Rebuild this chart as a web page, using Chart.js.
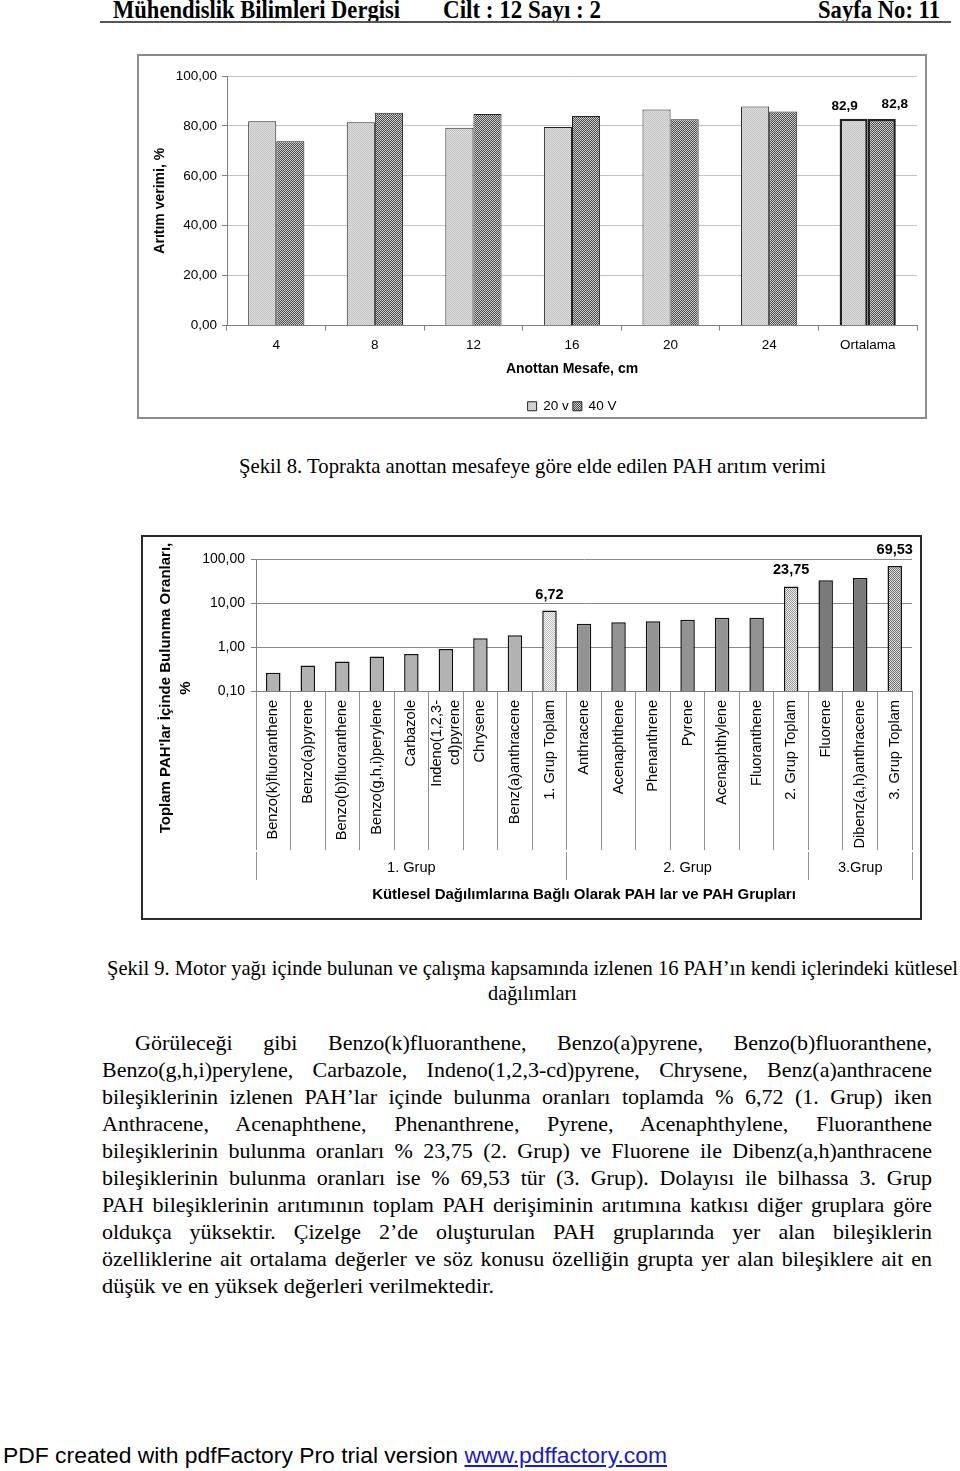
<!DOCTYPE html>
<html>
<head>
<meta charset="utf-8">
<script src="https://cdn.jsdelivr.net/npm/chart.js@4.4.0/dist/chart.umd.min.js"></script>
<style>
    body { margin: 0; background: #fff; }
    #page { position: relative; width: 960px; height: 1471px; overflow: hidden; font-family: "Liberation Serif", "Times New Roman", serif; color: #000; }
    .t { position: absolute; white-space: nowrap; font-size: 22px; line-height: 26px; transform-origin: 0 50%; }
    .hdr { font-weight: bold; font-size: 25px; line-height: 30px; }
    #rule { position: absolute; left: 100px; top: 21px; width: 851px; height: 2px; background: #555; }
    .box { position: absolute; background: #fff; }
    .box canvas { display: block; }
    #box1 { left: 137px; top: 54px; border: 2px solid #8a8a8a; }
    #box2 { left: 141px; top: 535px; border: 2px solid #2a2a2a; }
    #footer { font-family: "Liberation Sans", Arial, sans-serif; font-size: 22px; }
    #footer a { color: #1a1acc; text-decoration: underline; }
</style>
</head>
<body>
<div id="page">
    <div class="t hdr" data-w="287" style="left:113px;top:-5px">Mühendislik Bilimleri Dergisi</div>
    <div class="t hdr" data-w="158" style="left:443px;top:-5px">Cilt : 12 Sayı : 2</div>
    <div class="t hdr" data-w="122" style="left:818px;top:-5px">Sayfa No: 11</div>
    <div id="rule"></div>

    <div class="box" id="box1"><canvas id="chart1" width="786" height="361"></canvas></div>
    <div class="t" data-w="587" style="left:239px;top:453px">Şekil 8. Toprakta anottan mesafeye göre elde edilen PAH arıtım verimi</div>

    <div class="box" id="box2"><canvas id="chart2" width="777" height="381"></canvas></div>
    <div class="t" data-w="851" style="left:107px;top:955px">Şekil 9. Motor yağı içinde bulunan ve çalışma kapsamında izlenen 16 PAH’ın kendi içlerindeki kütlesel</div>
    <div class="t" data-w="89" style="left:488px;top:980px">dağılımları</div>

    <div class="t" data-w="797" data-mode="justify" style="left:135px;top:1030px">Görüleceği gibi Benzo(k)fluoranthene, Benzo(a)pyrene, Benzo(b)fluoranthene,</div>
    <div class="t" data-w="830" data-mode="justify" style="left:102px;top:1057px">Benzo(g,h,i)perylene, Carbazole, Indeno(1,2,3-cd)pyrene, Chrysene, Benz(a)anthracene</div>
    <div class="t" data-w="830" data-mode="justify" style="left:102px;top:1084px">bileşiklerinin izlenen PAH’lar içinde bulunma oranları toplamda % 6,72 (1. Grup) iken</div>
    <div class="t" data-w="830" data-mode="justify" style="left:102px;top:1111px">Anthracene, Acenaphthene, Phenanthrene, Pyrene, Acenaphthylene, Fluoranthene</div>
    <div class="t" data-w="830" data-mode="justify" style="left:102px;top:1138px">bileşiklerinin bulunma oranları % 23,75 (2. Grup) ve Fluorene ile Dibenz(a,h)anthracene</div>
    <div class="t" data-w="830" data-mode="justify" style="left:102px;top:1165px">bileşiklerinin bulunma oranları ise % 69,53 tür (3. Grup). Dolayısı ile bilhassa 3. Grup</div>
    <div class="t" data-w="830" data-mode="justify" style="left:102px;top:1192px">PAH bileşiklerinin arıtımının toplam PAH derişiminin arıtımına katkısı diğer gruplara göre</div>
    <div class="t" data-w="830" data-mode="justify" style="left:102px;top:1219px">oldukça yüksektir. Çizelge 2’de oluşturulan PAH gruplarında yer alan bileşiklerin</div>
    <div class="t" data-w="830" data-mode="justify" style="left:102px;top:1246px">özelliklerine ait ortalama değerler ve söz konusu özelliğin grupta yer alan bileşiklere ait en</div>
    <div class="t" data-w="392" style="left:102px;top:1273px">düşük ve en yüksek değerleri verilmektedir.</div>

    <div class="t" id="footer" data-w="664" style="left:3px;top:1443px">PDF created with pdfFactory Pro trial version <a>www.pdffactory.com</a></div>
</div>

<script>
// Şekil 8 - arıtım verimi
const mesafeLabels = ["4", "8", "12", "16", "20", "24", "Ortalama"];
const verim20v = [81.9, 81.5, 79.3, 79.6, 86.6, 87.8, 82.9];
const verim40v = [73.8, 85.3, 84.8, 84.0, 82.7, 85.8, 82.8];
const verimTicks = [0, 20, 40, 60, 80, 100];

// Şekil 9 - PAH dağılımı
const pahLabels = [
    "Benzo(k)fluoranthene", "Benzo(a)pyrene", "Benzo(b)fluoranthene", "Benzo(g,h,i)perylene",
    "Carbazole", ["Indeno(1,2,3-", "cd)pyrene"], "Chrysene", "Benz(a)anthracene", "1. Grup Toplam",
    "Anthracene", "Acenaphthene", "Phenanthrene", "Pyrene", "Acenaphthylene", "Fluoranthene",
    "2. Grup Toplam", "Fluorene", "Dibenz(a,h)anthracene", "3. Grup Toplam"
];
const pahValues = [0.26, 0.38, 0.47, 0.61, 0.69, 0.90, 1.58, 1.86, 6.72, 3.36, 3.67, 3.87, 4.14, 4.60, 4.62, 23.75, 32.7, 36.9, 69.53];
const pahGroup = [1, 1, 1, 1, 1, 1, 1, 1, 1, 2, 2, 2, 2, 2, 2, 2, 3, 3, 3];
const groupNames = ["1. Grup", "2. Grup", "3.Grup"];
const toplamIdx = [8, 15, 18];
const pahTicks = [0.1, 1, 10, 100];

function virgul(v, d) {
    return v.toFixed(d).replace(".", ",");
}

// small checker pattern, like the excel fills
function pattern(a, b) {
    const c = document.createElement("canvas");
    c.width = 2;
    c.height = 2;
    const g = c.getContext("2d");
    g.fillStyle = a;
    g.fillRect(0, 0, 2, 2);
    g.fillStyle = b;
    g.fillRect(0, 0, 1, 1);
    g.fillRect(1, 1, 1, 1);
    return g.createPattern(c, "repeat");
}

document.addEventListener("DOMContentLoaded", function () {
    // stretch text lines to the widths of the scanned page
    document.querySelectorAll("[data-w]").forEach(function (el) {
        const target = +el.dataset.w;
        const natural = el.getBoundingClientRect().width;
        if (el.dataset.mode === "justify") {
            const gaps = el.textContent.trim().split(/\s+/).length - 1;
            const ws = (target - natural) / gaps;
            if (ws > -1.5) {
                el.style.wordSpacing = ws + "px";
                return;
            }
        }
        el.style.transform = "scaleX(" + (target / natural) + ")";
    });

    Chart.defaults.font.family = "'Liberation Sans', Arial, sans-serif";
    Chart.defaults.color = "#000";

    // Şekil 8
    const last = mesafeLabels.length - 1;
    const ortalamaLabels = {
        id: "ortalamaLabels",
        afterDatasetsDraw(chart) {
            const ctx = chart.ctx;
            ctx.save();
            ctx.font = "bold 13.5px 'Liberation Sans', Arial";
            ctx.textAlign = "center";
            ctx.textBaseline = "middle";
            chart.data.datasets.forEach(function (ds, i) {
                const bar = chart.getDatasetMeta(i).data[last];
                ctx.fillText(virgul(ds.data[last], 1), bar.x + (i ? 13 : -9), bar.y - (i ? 15 : 12));
            });
            ctx.restore();
        },
    };
    // legend sits under the plot centre, a little lower than chart.js puts it
    const legendPlace = {
        id: "legendPlace",
        afterLayout(chart) {
            const l = chart.legend;
            const d = (chart.chartArea.left + chart.chartArea.right) / 2 - (l.left + l.right) / 2;
            l.left += d;
            l.right += d;
            l.top += 6;
            l.bottom += 6;
        },
    };

    new Chart(document.getElementById("chart1"), {
        type: "bar",
        data: {
            labels: mesafeLabels,
            datasets: [
                {
                    label: "20 v",
                    data: verim20v,
                    backgroundColor: pattern("#c4c4c4", "#dcdcdc"),
                    borderColor: "#222",
                    borderWidth: (c) => (c.dataIndex === last ? 2.5 : 1),
                    categoryPercentage: 0.57,
                    barPercentage: 1,
                },
                {
                    label: "40 V",
                    data: verim40v,
                    backgroundColor: pattern("#c8c8c8", "#505050"),
                    borderColor: "#222",
                    borderWidth: (c) => (c.dataIndex === last ? 2.5 : 1),
                    categoryPercentage: 0.57,
                    barPercentage: 1,
                },
            ],
        },
        options: {
            responsive: false,
            animation: false,
            layout: { padding: { top: 20, right: 8, bottom: 0, left: 0 } },
            plugins: {
                tooltip: { enabled: false },
                legend: {
                    position: "bottom",
                    labels: { boxWidth: 9, boxHeight: 9, padding: 4, font: { size: 13.5 }, color: "#000" },
                },
            },
            scales: {
                x: {
                    grid: { offset: true, drawOnChartArea: false, tickLength: 5, color: "#808080" },
                    border: { color: "#808080" },
                    ticks: { padding: 7, font: { size: 13.5 } },
                    title: {
                        display: true,
                        text: "Anottan Mesafe, cm",
                        font: { size: 14, weight: "bold" },
                        padding: { top: 0, bottom: 12 },
                    },
                    afterFit: (s) => { s.height = 64; },
                },
                y: {
                    min: 0,
                    max: 100,
                    afterBuildTicks: (s) => { s.ticks = verimTicks.map((v) => ({ value: v })); },
                    ticks: { padding: 5, font: { size: 13.5 }, callback: (v) => virgul(v, 2) },
                    grid: { color: "#c4c4c4", tickColor: "#808080", tickLength: 5 },
                    border: { color: "#808080" },
                    title: {
                        display: true,
                        text: "Arıtım verimi, %",
                        font: { size: 14, weight: "bold" },
                        padding: { top: 13, bottom: 0 },
                    },
                    afterFit: (s) => { s.width = 88; },
                },
            },
        },
        plugins: [ortalamaLabels, legendPlace],
    });

    // Şekil 9
    const groupColors = { 1: "#b2b2b2", 2: "#939393", 3: "#7a7a7a" };
    const toplamFills = [
        pattern("#f6f6f6", "#bdbdbd"),
        pattern("#ececec", "#989898"),
        pattern("#dcdcdc", "#747474"),
    ];
    const pahColors = pahValues.map(function (v, i) {
        const t = toplamIdx.indexOf(i);
        return t >= 0 ? toplamFills[t] : groupColors[pahGroup[i]];
    });

    // second row of the axis: group names under the middle item, lines at group edges
    const groupRow = pahGroup.map(() => "");
    const groupEdges = [];
    groupNames.forEach(function (name, g) {
        const idx = [];
        pahGroup.forEach((p, i) => { if (p === g + 1) idx.push(i); });
        groupRow[idx[Math.floor(idx.length / 2)]] = name;
        groupEdges.push(idx[0]);
    });

    const toplamLabels = {
        id: "toplamLabels",
        afterDatasetsDraw(chart) {
            const ctx = chart.ctx;
            const bars = chart.getDatasetMeta(0).data;
            ctx.save();
            ctx.font = "bold 14.5px 'Liberation Sans', Arial";
            ctx.textAlign = "center";
            ctx.textBaseline = "middle";
            toplamIdx.forEach(function (i) {
                ctx.fillText(virgul(pahValues[i], 2), bars[i].x, bars[i].y - 16);
            });
            ctx.restore();
        },
    };
    const yTitle2 = {
        id: "yTitle2",
        afterDraw(chart) {
            const ctx = chart.ctx;
            const a = chart.chartArea;
            ctx.save();
            ctx.translate(a.left - 90, a.bottom - 3);
            ctx.rotate(-Math.PI / 2);
            ctx.font = "bold 15px 'Liberation Sans', Arial";
            ctx.textAlign = "center";
            ctx.textBaseline = "middle";
            ctx.fillText("Toplam PAH'lar İçinde Bulunma Oranları,", 0, 0);
            ctx.fillText("%", 0, 20);
            ctx.restore();
        },
    };
    // two-line tick labels: centre both lines on the tick
    const centerMultiLine = {
        id: "centerMultiLine",
        beforeDraw(chart) {
            chart.scales.x.getLabelItems().forEach(function (it) {
                if (Array.isArray(it.label) && !it.centred) {
                    const lh = it.font ? it.font.lineHeight : 17.5;
                    it.options.translation[0] -= (it.label.length - 1) * lh / 2;
                    it.centred = true;
                }
            });
        },
    };

    new Chart(document.getElementById("chart2"), {
        type: "bar",
        data: {
            labels: pahLabels,
            datasets: [
                {
                    data: pahValues,
                    backgroundColor: pahColors,
                    borderColor: "#111",
                    borderWidth: 1.5,
                    categoryPercentage: 1,
                    barPercentage: 0.42,
                },
            ],
        },
        options: {
            responsive: false,
            animation: false,
            layout: { padding: { top: 22, right: 8, bottom: 0, left: 0 } },
            plugins: { legend: { display: false }, tooltip: { enabled: false } },
            scales: {
                x: {
                    weight: 0,
                    grid: { offset: true, drawOnChartArea: false, tickLength: 159, color: "#909090" },
                    border: { color: "#808080" },
                    ticks: { autoSkip: false, minRotation: 90, maxRotation: 90, padding: -150, font: { size: 14.6 } },
                    afterFit: (s) => { s.height = 161; },
                },
                x2: {
                    type: "category",
                    position: "bottom",
                    weight: 1,
                    labels: groupRow,
                    offset: true,
                    grid: {
                        offset: true,
                        drawOnChartArea: false,
                        tickLength: 28,
                        color: (c) => (c.index === undefined || groupEdges.includes(c.index) ? "#909090" : "rgba(0,0,0,0)"),
                    },
                    border: { display: false },
                    ticks: { autoSkip: false, maxRotation: 0, padding: -21, font: { size: 14.6 } },
                    title: {
                        display: true,
                        text: "Kütlesel Dağılımlarına Bağlı Olarak PAH lar ve PAH Grupları",
                        font: { size: 15, weight: "bold" },
                        padding: { top: 0, bottom: 14 },
                    },
                    afterFit: (s) => { s.height = 66; },
                },
                y: {
                    type: "logarithmic",
                    min: 0.1,
                    max: 100,
                    afterBuildTicks: (s) => { s.ticks = pahTicks.map((v) => ({ value: v })); },
                    ticks: { padding: 6, font: { size: 14 }, callback: (v) => virgul(v, 2) },
                    grid: { color: "#8a8a8a", tickColor: "#808080", tickLength: 5 },
                    border: { color: "#808080" },
                    afterFit: (s) => { s.width = 113; },
                },
            },
        },
        plugins: [toplamLabels, yTitle2, centerMultiLine],
    });
});
</script>
</body>
</html>
